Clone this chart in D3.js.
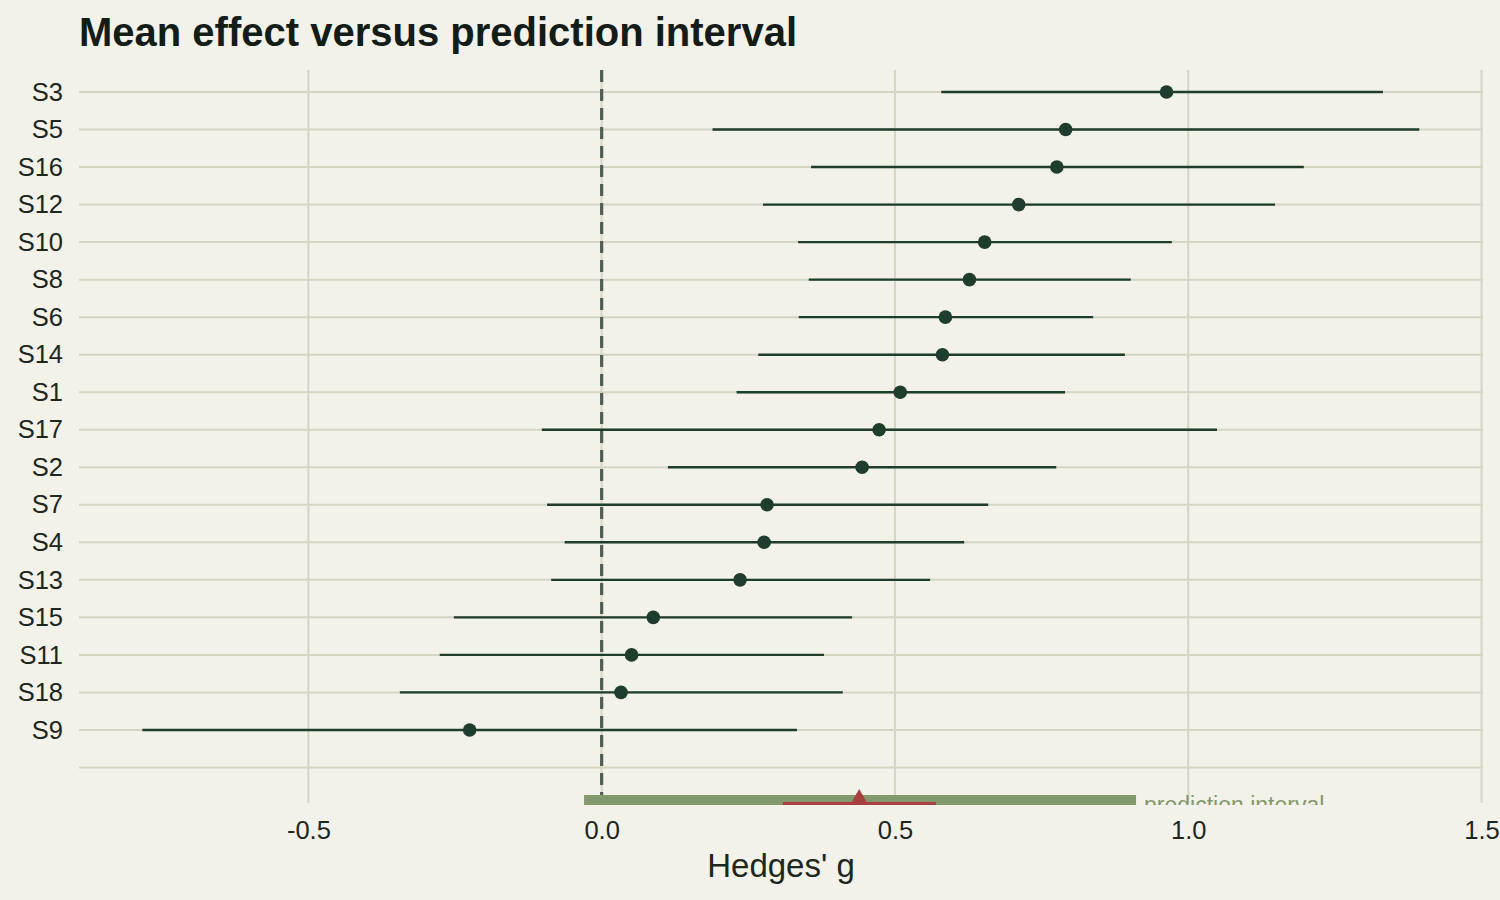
<!DOCTYPE html>
<html>
<head>
<meta charset="utf-8">
<script src="https://cdn.jsdelivr.net/npm/d3@7"></script>
<style>
  html, body { margin: 0; padding: 0; background: #f2f1ea; }
  body { width: 1500px; height: 900px; overflow: hidden; }
  text { font-family: "Liberation Sans", Arial, Helvetica, sans-serif; }
</style>
</head>
<body>
<div id="chart"></div>
<script>
// study-level effects, sorted as in the figure (top to bottom)
const studies = ['S3','S5','S16','S12','S10','S8','S6','S14','S1','S17','S2','S7','S4','S13','S15','S11','S18','S9'];
const effect  = [0.963,0.791,0.776,0.711,0.653,0.627,0.586,0.581,0.509,0.473,0.444,0.282,0.277,0.236,0.088,0.051,0.033,-0.225];
const lower   = [0.579,0.189,0.357,0.275,0.335,0.353,0.336,0.267,0.230,-0.102,0.113,-0.093,-0.063,-0.086,-0.252,-0.276,-0.344,-0.783];
const upper   = [1.332,1.394,1.197,1.148,0.972,0.902,0.838,0.892,0.790,1.049,0.775,0.659,0.618,0.560,0.427,0.379,0.411,0.333];

// pooled estimate
const pooledMean = 0.439;
const pooledCI = [0.309, 0.570];
const predInterval = [-0.030, 0.911];

const xTickValues = [-0.5, 0, 0.5, 1.0, 1.5];
const xTickLabels = ['-0.5','0.0','0.5','1.0','1.5'];

(function(){
  const W = 1500, H = 900;
  const left = 79, right = 1483, top = 70, bottom = 805;

  const bg = '#f2f1ea', grid = '#d5d5c2', ink = '#1e3d2c', textCol = '#1d2720';
  const piGreen = '#84996b', ciRed = '#a8403f';

  const svg = d3.select('#chart').append('svg')
    .attr('width', W).attr('height', H);
  svg.append('rect').attr('width', W).attr('height', H).attr('fill', bg);

  const x = d3.scaleLinear().domain([-0.891, 1.5025]).range([left, right]);
  // two extra slots below the studies: a blank row and the pooled row
  const yDomain = studies.concat(['_gap', '_pooled']);
  const y = d3.scalePoint().domain(yDomain).range([92, bottom]);

  svg.append('defs').append('clipPath').attr('id', 'plotclip')
    .append('rect').attr('x', left - 2).attr('y', top).attr('width', right - left + 4).attr('height', bottom - top);

  const plot = svg.append('g').attr('clip-path', 'url(#plotclip)');

  // gridlines
  plot.append('g').selectAll('line.h')
    .data(yDomain.slice(0, yDomain.length - 1))
    .enter().append('line')
    .attr('x1', left).attr('x2', right)
    .attr('y1', d => y(d)).attr('y2', d => y(d))
    .attr('stroke', grid).attr('stroke-width', 2);
  plot.append('g').selectAll('line.v')
    .data(xTickValues)
    .enter().append('line')
    .attr('x1', d => x(d)).attr('x2', d => x(d))
    .attr('y1', top).attr('y2', bottom - 2)
    .attr('stroke', grid).attr('stroke-width', 2);

  // zero reference
  plot.append('line')
    .attr('x1', x(0)).attr('x2', x(0)).attr('y1', top).attr('y2', bottom)
    .attr('stroke', '#4f5f55').attr('stroke-width', 3.2)
    .attr('stroke-dasharray', '12,7');

  // study CIs and points
  const rows = studies.map((s, i) => ({ s, e: effect[i], lo: lower[i], hi: upper[i] }));
  plot.append('g').selectAll('line')
    .data(rows).enter().append('line')
    .attr('x1', d => x(d.lo)).attr('x2', d => x(d.hi))
    .attr('y1', d => y(d.s)).attr('y2', d => y(d.s))
    .attr('stroke', ink).attr('stroke-width', 2.4);
  plot.append('g').selectAll('circle')
    .data(rows).enter().append('circle')
    .attr('cx', d => x(d.e)).attr('cy', d => y(d.s)).attr('r', 6.8)
    .attr('fill', ink);

  // pooled row: prediction interval, CI, mean
  const py = y('_pooled');
  plot.append('line')
    .attr('x1', x(predInterval[0])).attr('x2', x(predInterval[1]))
    .attr('y1', py).attr('y2', py)
    .attr('stroke', piGreen).attr('stroke-width', 20);
  plot.append('line')
    .attr('x1', x(pooledCI[0])).attr('x2', x(pooledCI[1]))
    .attr('y1', py).attr('y2', py)
    .attr('stroke', ciRed).attr('stroke-width', 6);
  plot.append('path')
    .attr('d', d3.symbol().type(d3.symbolTriangle).size(330))
    .attr('transform', `translate(${x(pooledMean)},${py})`)
    .attr('fill', ciRed);
  plot.append('text')
    .attr('x', x(predInterval[1]) + 8).attr('y', py + 7.5)
    .attr('fill', piGreen).attr('font-size', 23)
    .text('prediction interval');

  // axes
  const xAxis = svg.append('g').attr('transform', `translate(0,${bottom})`)
    .call(d3.axisBottom(x).tickValues(xTickValues)
      .tickFormat((d, i) => xTickLabels[i]).tickSize(0).tickPadding(16));
  xAxis.select('.domain').remove();
  xAxis.selectAll('text').attr('font-size', 25.5).attr('fill', textCol)
    .style('font-family', '"Liberation Sans", Arial, sans-serif');

  const yAxis = svg.append('g').attr('transform', `translate(${left},0)`)
    .call(d3.axisLeft(y).tickValues(studies).tickSize(0).tickPadding(16));
  yAxis.select('.domain').remove();
  yAxis.selectAll('text').attr('font-size', 25.5).attr('fill', textCol)
    .style('font-family', '"Liberation Sans", Arial, sans-serif');

  svg.append('text')
    .attr('x', (left + right) / 2).attr('y', 877)
    .attr('text-anchor', 'middle').attr('font-size', 33).attr('fill', textCol)
    .text("Hedges' g");

  svg.append('text')
    .attr('x', left).attr('y', 46)
    .attr('font-size', 40).attr('font-weight', 700).attr('fill', '#131c16')
    .text('Mean effect versus prediction interval');
})();
</script>
</body>
</html>
